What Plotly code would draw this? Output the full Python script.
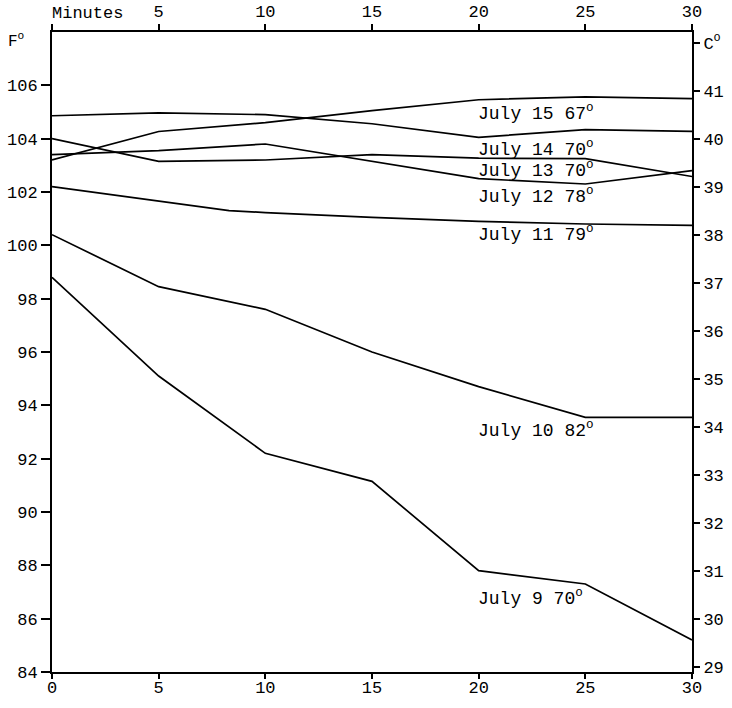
import plotly.graph_objects as go

# ---- data ----
minutes = [0, 5, 10, 15, 20, 25, 30]
july9 = [98.8, 95.1, 92.2, 91.15, 87.8, 87.3, 85.2]
july10 = [100.4, 98.45, 97.6, 96.0, 94.7, 93.55, 93.55]
july11_minutes = [0, 5, 8.3, 10, 15, 20, 25, 30]
july11 = [102.2, 101.65, 101.3, 101.23, 101.05, 100.9, 100.8, 100.75]
july12 = [103.4, 103.55, 103.8, 103.15, 102.5, 102.3, 102.8]
july13 = [104.0, 103.15, 103.2, 103.4, 103.27, 103.25, 102.58]
july14 = [104.86, 104.97, 104.9, 104.56, 104.05, 104.34, 104.27]
july15 = [103.2, 104.27, 104.6, 105.05, 105.46, 105.57, 105.5]

series_names = ["July 9 70", "July 10 82", "July 11 79", "July 12 78",
                "July 13 70", "July 14 70", "July 15 67"]
label_y = [86.8, 93.1, 100.44, 101.87, 102.84, 103.63, 104.97]

f_ticks = [84, 86, 88, 90, 92, 94, 96, 98, 100, 102, 104, 106]
c_ticks = [29, 30, 31, 32, 33, 34, 35, 36, 37, 38, 39, 40, 41]
x_ticks = [0, 5, 10, 15, 20, 25, 30]
top_ticks = [5, 10, 15, 20, 25, 30]

F_MIN, F_MAX = 84, 108
FONT = "Liberation Mono"

fig = go.Figure()
xs = [minutes, minutes, july11_minutes, minutes, minutes, minutes, minutes]
ys = [july9, july10, july11, july12, july13, july14, july15]
for name, x, y in zip(series_names, xs, ys):
    fig.add_trace(go.Scatter(x=x, y=y, mode="lines", name=name,
                             line=dict(color="black", width=1.7),
                             showlegend=False, xaxis="x", yaxis="y"))

# invisible trace to activate secondary axes
fig.add_trace(go.Scatter(x=[0], y=[(F_MIN - 32) / 1.8], mode="markers",
                         marker=dict(opacity=0), showlegend=False,
                         hoverinfo="skip", xaxis="x2", yaxis="y2"))

for name, ly in zip(series_names, label_y):
    fig.add_annotation(x=20, y=ly, xref="x", yref="y", xanchor="left",
                       yanchor="middle", showarrow=False, xshift=-3,
                       text=name + "<sup>o</sup>",
                       font=dict(family=FONT, size=18, color="black"))

fig.add_annotation(x=0, y=1, xref="x", yref="paper", xanchor="left",
                   yanchor="bottom", yshift=7, xshift=-2, showarrow=False,
                   text="Minutes", font=dict(family=FONT, size=17, color="black"))
fig.add_annotation(x=-0.072, y=107.7, xref="paper", yref="y", xanchor="left",
                   yanchor="middle", showarrow=False, text="F<sup>o</sup>",
                   font=dict(family=FONT, size=16, color="black"))

c_vals = c_ticks + [42]
c_text = [str(c) for c in c_ticks] + ["C<sup>o</sup>"]

tick_font = dict(family=FONT, size=17, color="black")
common = dict(showline=True, linecolor="black", linewidth=2, showgrid=False,
              zeroline=False, tickfont=tick_font, automargin=False,
              ticks="outside", tickwidth=1.5, tickcolor="black")
fig.update_layout(
    width=732, height=708,
    margin=dict(l=52, r=40, t=32, b=36),
    paper_bgcolor="white", plot_bgcolor="white",
    xaxis=dict(range=[0, 30], tickvals=x_ticks, ticklen=5, ticklabelstandoff=-6,
               **common),
    xaxis2=dict(range=[0, 30], overlaying="x", side="top", tickvals=[0] + top_ticks,
                ticktext=[""] + [str(t) for t in top_ticks], ticklen=6, **common),
    yaxis=dict(range=[F_MIN, F_MAX], tickvals=f_ticks, ticklen=9, **common),
    yaxis2=dict(range=[(F_MIN - 32) / 1.8, (F_MAX - 32) / 1.8], overlaying="y",
                side="right", tickvals=c_vals, ticktext=c_text, ticklen=6, **common),
)

fig.write_html("out.html", config={"displayModeBar": False},
               post_script="document.body.style.margin='0px';document.body.style.overflow='hidden';")
